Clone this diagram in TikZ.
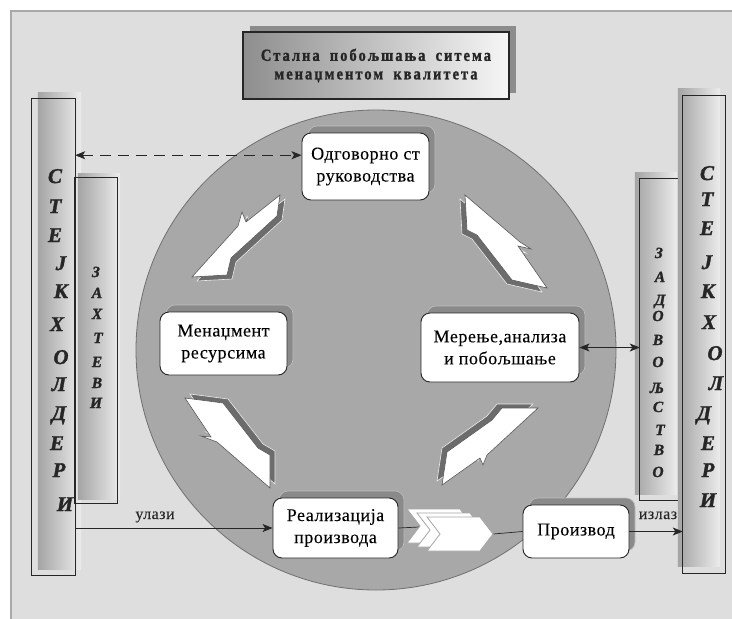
\documentclass[tikz,border=0pt]{standalone}
\usepackage{fontspec}
\setmainfont{Liberation Serif}[BoldFont={Liberation Serif Bold},ItalicFont={Liberation Serif Italic},BoldItalicFont={Liberation Serif Bold Italic}]
\newfontfamily\headfont{Liberation Serif Bold}[FakeStretch=0.85,FakeBold=1.3,LetterSpace=12,WordSpace=1.8]
\newfontfamily\boxfont{Liberation Serif}[LetterSpace=3,FakeBold=0.15]
\newfontfamily\barfont{Liberation Serif Bold Italic}[FakeBold=1.6]
\usetikzlibrary{arrows.meta,shadows,shapes.symbols}

\definecolor{panel}{HTML}{DEDEDE}
\definecolor{panelrim}{HTML}{A9A9A9}
\definecolor{disc}{HTML}{A8A8A8}
\definecolor{discrim}{HTML}{707070}
\definecolor{ink}{HTML}{262626}
\definecolor{boxshade}{HTML}{8A8A8A}
\definecolor{boltshade}{HTML}{6C6C6C}
\definecolor{barleft}{HTML}{A4A4A4}
\definecolor{barright}{HTML}{ECECEC}
\definecolor{ttlleft}{HTML}{8E8E8E}
\definecolor{ttlright}{HTML}{F6F6F6}
\definecolor{ttlshade}{HTML}{8C8C8C}

% lightning-shaped flow arrow: shadow copy, then white body
\newcommand\drawbolt[2]{%
  \filldraw[boltshade, draw=white!85!gray, line width=0.6pt, shift={#1}] #2;
  \filldraw[fill=white, draw=gray!70!black, line width=0.6pt] #2;
}
% column: shaded slab offset by #2, framed by the outline of node #1
\newcommand\drawcolumn[2]{%
  \shade[left color=barleft, right color=barright]
    ([shift={#2}]#1.south west) rectangle ([shift={#2}]#1.north east);
  \draw[draw=ink, line width=1.1pt] (#1.south west) rectangle (#1.north east);
}

\tikzset{
  stepbox/.style={draw=ink, line width=0.9pt, fill=white, rounded corners=9pt,
    inner sep=0pt, align=center, text=black,
    font=\boxfont\fontsize{18}{22}\selectfont,
    drop shadow={shadow xshift=6pt, shadow yshift=7pt, fill=boxshade,
      draw=black!25, line width=0.6pt, opacity=1}},
  column/.style={inner sep=0pt},
  bigletter/.style={font=\barfont\fontsize{21}{21}\selectfont,
    text=ink, anchor=base, inner sep=0pt},
  smallletter/.style={font=\barfont\fontsize{15.5}{15.5}\selectfont,
    text=ink, anchor=base, inner sep=0pt},
  titlebox/.style={draw=ink, line width=1.2pt, left color=ttlleft,
    right color=ttlright, minimum width=266pt, minimum height=67pt,
    inner sep=0pt, align=center, text=ink,
    font=\headfont\fontsize{17}{18.5}\selectfont,
    drop shadow={shadow xshift=7pt, shadow yshift=6pt, fill=ttlshade,
      draw=none, opacity=1}},
  chev/.style={shape=signal, signal to=east, signal from=west,
    signal pointer angle=105, minimum width=66pt, minimum height=34pt,
    inner sep=0pt, fill=white, draw=gray!70, line width=0.8pt},
  link/.style={draw=ink, line width=0.9pt},
  tip/.style={-{Stealth[length=10pt,width=8pt,inset=2.5pt]}},
  bothtips/.style={{Stealth[length=10pt,width=8pt,inset=2.5pt]}-{Stealth[length=10pt,width=8pt,inset=2.5pt]}},
  lbl/.style={font=\boxfont\fontsize{16}{16}\selectfont, text=ink, anchor=base, inner sep=0pt}
}

\begin{document}
\begin{tikzpicture}[x=1pt,y=-1pt]
\useasboundingbox (0,0) rectangle (732,619);

% background panel
\fill[white] (0,0) rectangle (732,619);
\filldraw[fill=panel, draw=panelrim, line width=2.5pt] (11,11) rectangle (745,640);

% process disc
\node[circle, minimum size=480pt, inner sep=0pt, fill=disc, draw=discrim, line width=0.8pt] (disc) at (376,350) {};

% flow arrows around the cycle
\drawbolt{(5,4)}{(192,277) -- (238,226) -- (242,212) -- (246,222) -- (280,195) -- (277,216) -- (231,258) -- (227,275) -- cycle}
\drawbolt{(-5,4)}{(465,195) -- (520,242) -- (531,249) -- (518,246) -- (547,288) -- (512,280) -- (477,235) -- (467,230) -- cycle}
\drawbolt{(5,-4)}{(185,398) -- (223,403) -- (258,448) -- (270,455) -- (270,488) -- (217,442) -- (201,436) -- (211,437) -- cycle}
\drawbolt{(-5,-4)}{(442,485) -- (447,452) -- (492,420) -- (502,408) -- (538,408) -- (487,455) -- (483,465) -- (480,458) -- cycle}

% process steps
\node[stepbox, minimum width=127pt, minimum height=67pt] (resp) at (365.5,166.5) {Одговорно ст\\руководства};
\node[stepbox, minimum width=127pt, minimum height=63pt] (res) at (223.5,343.5) {Менаџмент\\ресурсима};
\node[stepbox, minimum width=158pt, minimum height=69pt] (meas) at (500,347.5) {Мерење,анализа\\и побољшање};
\node[stepbox, minimum width=125pt, minimum height=60pt] (real) at (335.5,528) {Реализација\\производа};
\node[stepbox, minimum width=106pt, minimum height=53pt] (prod) at (576,531.5) {Производ};

% realization -> product chain
\coordinate (chA) at (440,526);
\coordinate (chB) at (450,530);
\coordinate (chC) at (460,534);
\draw[link, line width=0.7pt] (real.east) -- (chA);
\node[chev] (ch1) at (chA) {};
\node[chev] (ch2) at (chB) {};
\node[chev] (ch3) at (chC) {};
\draw[link, line width=0.7pt] (ch3.east) -- (prod.west);

% stakeholder columns, left
\node[column, minimum width=43pt, minimum height=476pt] (stL) at (53.5,337) {};
\drawcolumn{stL}{(6,-6)}
\node[column, minimum width=42pt, minimum height=325pt] (reqL) at (96,340.5) {};
\drawcolumn{reqL}{(3,-4)}
% stakeholder columns, right
\node[column, minimum width=42pt, minimum height=321pt] (satR) at (661,339.5) {};
\drawcolumn{satR}{(-5,-6)}
\node[column, minimum width=42pt, minimum height=477pt] (stR) at (704,334.5) {};
\drawcolumn{stR}{(-5,-7)}

\foreach \l/\x/\y [count=\i] in {С/55/183, Т/55/213, Е/55/242, Ј/61/270, К/61/298, Х/57/331, О/61/364, Л/59/391, Д/59/420, Е/57/450, Р/59/477, И/65/511}
  \node[bigletter] (stLl\i) at (\x,\y) {\l};
\foreach \l/\x/\y [count=\i] in {З/96/277, А/97/298, Х/97/319, Т/98/343, Е/97/367, В/97/388, И/96/408}
  \node[smallletter] (reqLl\i) at (\x,\y) {\l};
\foreach \l/\x/\y [count=\i] in {С/707/180, Т/707/206, Е/707/235, Ј/707/269, К/708/298, Х/709/329, О/715/360, Л/716/390, Д/704/420, Е/708/450, Р/708/477, И/708/507}
  \node[bigletter] (stRl\i) at (\x,\y) {\l};
\foreach \l/\x/\y [count=\i] in {З/659/258, А/660/282, Д/660/305, О/658/321, В/658/345, О/658/367, Љ/657/393, С/658/412, Т/660/435, В/659/455, О/658/477}
  \node[smallletter] (satRl\i) at (\x,\y) {\l};

% heading
\node[titlebox] (title) at (376,65.5) {Стална побољшања ситема\\менаџментом квалитета};

% connectors
\draw[link, bothtips, dash pattern=on 11pt off 7pt] (resp.170 -| stL.east) -- (resp.170);
\draw[link, tip] (real.west -| stL.east) -- (real.west);
\draw[link, tip] (prod.east) -- (prod.east -| stR.west);
\draw[link, bothtips] (meas.east) -- (meas.east -| satR.west);

\node[lbl] (inLbl) at (155,519) {улази};
\node[lbl] (outLbl) at (658,519) {излаз};
\end{tikzpicture}
\end{document}
